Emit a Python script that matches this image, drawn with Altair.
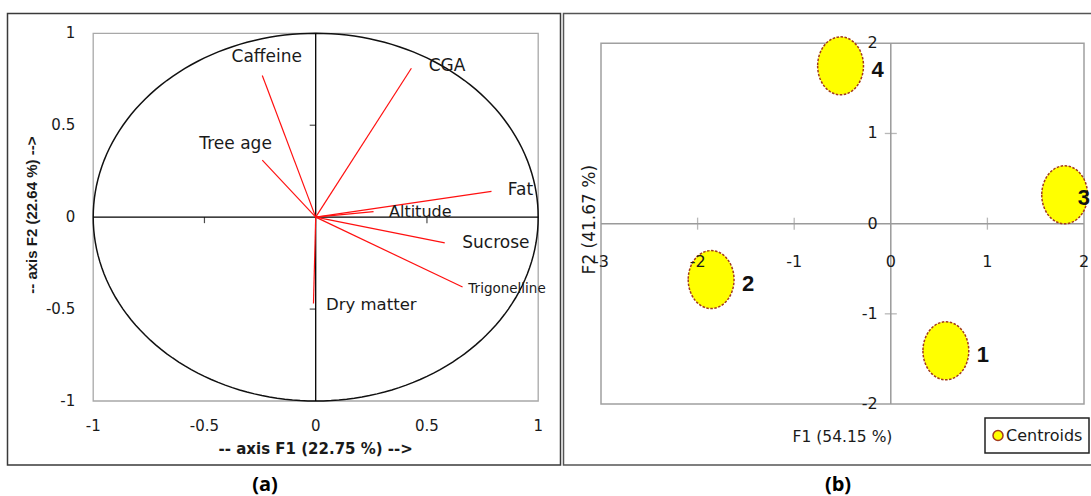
import altair as alt
import pandas as pd

# ---------------- Panel (a): correlation circle of the variables ----------------
var_names = ["Caffeine", "Tree age", "CGA", "Fat", "Altitude", "Sucrose", "Trigonelline", "Dry matter"]
load_f1 = [-0.24, -0.24, 0.43, 0.79, 0.26, 0.58, 0.66, -0.01]
load_f2 = [0.77, 0.31, 0.81, 0.14, 0.03, -0.14, -0.38, -0.47]
label_f1 = [-0.22, -0.36, 0.59, 0.92, 0.47, 0.81, 0.86, 0.25]
label_f2 = [0.87, 0.40, 0.82, 0.15, 0.03, -0.14, -0.39, -0.48]
label_size = [17, 17, 17, 17, 16, 17, 13.5, 16.5]

a_ticks = [-1, -0.5, 0, 0.5, 1]
a_tick_text = ["-1", "-0.5", "0", "0.5", "1"]
a_minor = [-0.5, 0.5]
a_xtitle = "-- axis F1 (22.75 %) -->"
a_ytitle = "-- axis F2 (22.64 %) -->"

# ---------------- Panel (b): cluster centroids on F1/F2 ----------------
cluster_ids = ["1", "2", "3", "4"]
cent_f1 = [0.57, -1.86, 1.80, -0.52]
cent_f2 = [-1.41, -0.62, 0.32, 1.75]

b_xticks = [-3, -2, -1, 0, 1, 2]
b_yticks = [-2, -1, 0, 1, 2]
b_minor_x = [-2, -1, 1]
b_minor_y = [-1, 1]
b_xtitle = "F1 (54.15 %)"
b_ytitle = "F2 (41.67 %)"
legend_label = "Centroids"

# ---------------- scales (each panel placed in its own pixel range) ----------------
SA_X = alt.Scale(domain=[min(a_ticks), max(a_ticks)], range=[93.2, 538.2], nice=False, zero=False)
SA_Y = alt.Scale(domain=[min(a_ticks), max(a_ticks)], range=[401, 33.3], nice=False, zero=False)
SB_X = alt.Scale(domain=[min(b_xticks), max(b_xticks)], range=[601, 1084], nice=False, zero=False)
SB_Y = alt.Scale(domain=[min(b_yticks), max(b_yticks)], range=[404, 43.3], nice=False, zero=False)


def ax(f):
    return alt.X(f"{f}:Q", scale=SA_X, axis=None)


def ay(f):
    return alt.Y(f"{f}:Q", scale=SA_Y, axis=None)


def bx(f):
    return alt.X(f"{f}:Q", scale=SB_X, axis=None)


def by(f):
    return alt.Y(f"{f}:Q", scale=SB_Y, axis=None)


ARIAL = "Liberation Sans"
WIDE = "DejaVu Sans"

one = pd.DataFrame({"k": [0]})

# ---------- panel (a) data ----------
a_lim = pd.DataFrame({"lo": [min(a_ticks)], "hi": [max(a_ticks)], "zero": [0]})
a_vec = pd.DataFrame({"name": var_names, "f1": load_f1, "f2": load_f2,
                      "o": [0] * len(var_names)})
a_lab = pd.DataFrame({"name": var_names, "lx": label_f1, "ly": label_f2, "fs": label_size})
a_tk = pd.DataFrame({"v": a_ticks, "t": a_tick_text, "lo": min(a_ticks), "zero": 0})
a_mn = pd.DataFrame({"v": a_minor, "zero": 0})
a_ttl = pd.DataFrame({"cx": [0], "cy": [0], "lo": [min(a_ticks)],
                      "tx": [a_xtitle], "ty": [a_ytitle]})

frame_a = alt.Chart(one).mark_rect(fillOpacity=0, stroke="#3a3a3a", strokeWidth=1.5).encode(
    x=alt.value(7.5), x2=alt.value(560.5), y=alt.value(13.5), y2=alt.value(465))

box_a = alt.Chart(a_lim).mark_rect(fillOpacity=0, stroke="#a8a8a8", strokeWidth=1.3).encode(
    x=ax("lo"), x2="hi", y=ay("lo"), y2="hi")

vline_a = alt.Chart(a_lim).mark_rule(color="black", strokeWidth=1.3).encode(
    x=ax("zero"), y=ay("lo"), y2="hi")
hline_a = alt.Chart(a_lim).mark_rule(color="black", strokeWidth=1.3).encode(
    x=ax("lo"), x2="hi", y=ay("zero"))

xtick_a = alt.Chart(a_mn).mark_tick(orient="vertical", size=6, thickness=1.2, yOffset=3,
                                    color="black").encode(x=ax("v"), y=ay("zero"))
ytick_a = alt.Chart(a_mn).mark_tick(orient="horizontal", size=6, thickness=1.2, xOffset=-3,
                                    color="black").encode(x=ax("zero"), y=ay("v"))

circle_a = alt.Chart(alt.sequence(0, 362, 2, as_="deg")).transform_calculate(
    cx="cos(datum.deg * PI / 180)", cy="sin(datum.deg * PI / 180)"
).mark_line(color="#111111", strokeWidth=1.5).encode(
    x=ax("cx"), y=ay("cy"), order="deg:Q")

vec_a = alt.Chart(a_vec).mark_rule(color="#ff1010", strokeWidth=1.2).encode(
    x=ax("o"), x2="f1", y=ay("o"), y2="f2")

lab_a = alt.Chart(a_lab).mark_text(font=WIDE, baseline="middle", align="center",
                                   color="#1a1a1a").encode(
    x=ax("lx"), y=ay("ly"), text="name:N", size=alt.Size("fs:Q", scale=None, legend=None))

xlab_a = alt.Chart(a_tk).mark_text(font=WIDE, fontSize=15, dy=25, baseline="middle",
                                   align="center", color="#1a1a1a").encode(
    x=ax("v"), y=ay("lo"), text="t:N")
ylab_a = alt.Chart(a_tk).mark_text(font=WIDE, fontSize=15, dx=-18, baseline="middle",
                                   align="right", color="#1a1a1a").encode(
    x=ax("lo"), y=ay("v"), text="t:N")

xttl_a = alt.Chart(a_ttl).mark_text(font=WIDE, fontSize=15, fontWeight="bold", dy=48,
                                    baseline="middle", align="center", color="#1a1a1a").encode(
    x=ax("cx"), y=ay("lo"), text="tx:N")
yttl_a = alt.Chart(a_ttl).mark_text(font=ARIAL, fontSize=15, fontWeight="bold", angle=270,
                                    dy=-61, dx=2, baseline="middle", align="center",
                                    color="#1a1a1a").encode(
    x=ax("lo"), y=ay("cy"), text="ty:N")

cap_a = alt.Chart(one).mark_text(text="(a)", font="Open Sans", fontSize=20, fontWeight="bold",
                                 baseline="middle", align="center", color="black").encode(
    x=alt.value(265), y=alt.value(485))

# ---------- panel (b) data ----------
b_lim = pd.DataFrame({"xlo": [min(b_xticks)], "xhi": [max(b_xticks)],
                      "ylo": [min(b_yticks)], "yhi": [max(b_yticks)], "zero": [0]})
b_cent = pd.DataFrame({"id": cluster_ids, "f1": cent_f1, "f2": cent_f2})
b_xt = pd.DataFrame({"v": b_xticks, "t": [str(v) for v in b_xticks], "zero": 0})
b_yt = pd.DataFrame({"v": b_yticks, "t": [str(v) for v in b_yticks], "zero": 0})
b_mx = pd.DataFrame({"v": b_minor_x, "zero": 0})
b_my = pd.DataFrame({"v": b_minor_y, "zero": 0})
b_ttl = pd.DataFrame({"cx": [(min(b_xticks) + max(b_xticks)) / 2],
                      "cy": [(min(b_yticks) + max(b_yticks)) / 2],
                      "xlo": [min(b_xticks)], "ylo": [min(b_yticks)],
                      "tx": [b_xtitle], "ty": [b_ytitle]})

frame_b = alt.Chart(one).mark_rect(fillOpacity=0, stroke="#555555", strokeWidth=1.5).encode(
    x=alt.value(563.5), x2=alt.value(1100), y=alt.value(13.5), y2=alt.value(465))

box_b = alt.Chart(b_lim).mark_rect(fillOpacity=0, stroke="#a0a0a0", strokeWidth=1.5).encode(
    x=bx("xlo"), x2="xhi", y=by("ylo"), y2="yhi")
vline_b = alt.Chart(b_lim).mark_rule(color="#9a9a9a", strokeWidth=1.5).encode(
    x=bx("zero"), y=by("ylo"), y2="yhi")
hline_b = alt.Chart(b_lim).mark_rule(color="#9a9a9a", strokeWidth=1.5).encode(
    x=bx("xlo"), x2="xhi", y=by("zero"))
xtick_b = alt.Chart(b_mx).mark_tick(orient="vertical", size=12, thickness=1.3,
                                    color="#9a9a9a").encode(x=bx("v"), y=by("zero"))
ytick_b = alt.Chart(b_my).mark_tick(orient="horizontal", size=12, thickness=1.3,
                                    color="#9a9a9a").encode(x=bx("zero"), y=by("v"))

# ellipse-shaped centroid symbol (unit path, scaled by the symbol size)
ELLIPSE = "M -0.79 0 A 0.79 1 0 1 0 0.79 0 A 0.79 1 0 1 0 -0.79 0 Z"
cent_b = alt.Chart(b_cent).mark_point(shape=ELLIPSE, size=3364, filled=True, fill="#ffff00",
                                      fillOpacity=1, stroke="#a33a1e", strokeWidth=1.5,
                                      strokeDash=[2.5, 1.5], opacity=1).encode(
    x=bx("f1"), y=by("f2"))

num_b = alt.Chart(b_cent).transform_filter("datum.id != '3'").mark_text(
    font=ARIAL, fontSize=22, fontWeight="bold", align="left", baseline="middle",
    dx=31, dy=4, color="#111111").encode(x=bx("f1"), y=by("f2"), text="id:N")
num3_b = alt.Chart(b_cent).transform_filter("datum.id == '3'").mark_text(
    font=ARIAL, fontSize=22, fontWeight="bold", align="left", baseline="middle",
    dx=13, dy=3, color="#111111").encode(x=bx("f1"), y=by("f2"), text="id:N")

xlab_b = alt.Chart(b_xt).mark_text(font=WIDE, fontSize=16, dy=38, baseline="middle",
                                   align="center", color="#1a1a1a").encode(
    x=bx("v"), y=by("zero"), text="t:N")
ylab_b = alt.Chart(b_yt).mark_text(font=WIDE, fontSize=16, dx=-13, baseline="middle",
                                   align="right", color="#1a1a1a").encode(
    x=bx("zero"), y=by("v"), text="t:N")

xttl_b = alt.Chart(b_ttl).mark_text(font=WIDE, fontSize=15.5, dy=33, baseline="middle",
                                    align="center", color="#1a1a1a").encode(
    x=bx("cx"), y=by("ylo"), text="tx:N")
yttl_b = alt.Chart(b_ttl).mark_text(font=WIDE, fontSize=17, angle=270, dy=-11, dx=4,
                                    baseline="middle", align="center", color="#1a1a1a").encode(
    x=bx("xlo"), y=by("cy"), text="ty:N")

leg_box = alt.Chart(one).mark_rect(fill="white", stroke="#222222", strokeWidth=1.5).encode(
    x=alt.value(985), x2=alt.value(1089), y=alt.value(418), y2=alt.value(453))
leg_sym = alt.Chart(one).mark_point(shape="circle", size=100, filled=True, fill="#ffff00",
                                    fillOpacity=1, stroke="#a33a1e", strokeWidth=1.5,
                                    opacity=1).encode(x=alt.value(998), y=alt.value(435.5))
leg_txt = alt.Chart(one).mark_text(text=legend_label, font=WIDE, fontSize=16, align="left",
                                   baseline="middle", color="#1a1a1a").encode(
    x=alt.value(1006), y=alt.value(435.5))

cap_b = alt.Chart(one).mark_text(text="(b)", font="Open Sans", fontSize=20, fontWeight="bold",
                                 baseline="middle", align="center", color="black").encode(
    x=alt.value(838), y=alt.value(485))

chart = alt.layer(
    frame_a, box_a, circle_a, vline_a, hline_a, xtick_a, ytick_a, vec_a, lab_a,
    xlab_a, ylab_a, xttl_a, yttl_a, cap_a,
    frame_b, box_b, vline_b, hline_b, xtick_b, ytick_b, cent_b, num_b, num3_b,
    xlab_b, ylab_b, xttl_b, yttl_b, leg_box, leg_sym, leg_txt, cap_b,
).resolve_scale(
    x="independent", y="independent"
).properties(
    width=1091, height=496, padding=0,
    autosize=alt.AutoSizeParams(type="none"),
    background="white",
).configure_view(strokeWidth=0)

chart.save("out.html", embed_options={"renderer": "svg", "actions": False})
